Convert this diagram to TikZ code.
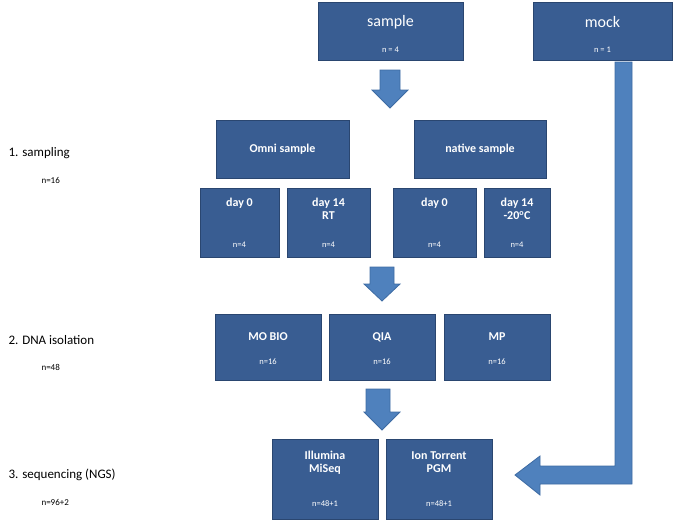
\documentclass[tikz,border=0pt]{standalone}
\usepackage{fontspec}
\setmainfont{Carlito}
\begin{document}
\begin{tikzpicture}[x=1pt,y=-1pt,
 box/.style={draw=boxb,fill=boxf,line width=1pt},
 ttl/.style={text=white,font=\bfseries\fontsize{12}{13}\selectfont,align=center},
 big/.style={text=white,font=\fontsize{16}{18}\selectfont},
 nn/.style={text=white,font=\fontsize{8.5}{10}\selectfont},
 arr/.style={draw=arrb,fill=arrf,line width=0.8pt,line join=miter},
 lab/.style={font=\fontsize{13}{15}\selectfont,anchor=west},
 labn/.style={font=\fontsize{9}{11}\selectfont,anchor=west}]
\definecolor{boxf}{HTML}{395D92}
\definecolor{boxb}{HTML}{2A4670}
\definecolor{arrf}{HTML}{4F81BD}
\definecolor{arrb}{HTML}{3D6BA3}
\useasboundingbox (0,0) rectangle (685,522);
% boxes
\newcommand{\bx}[5]{\draw[box] (#1,#2) rectangle (#3,#4); \coordinate (#5) at ({(#1+#3)/2},{(#2+#4)/2});}
\bx{318}{2}{463}{60}{s}
\node[big] (st) at (390.5,22) {sample}; \node[nn] (sn) at (390.5,50) {n = 4};
\bx{533}{2}{672}{60}{m}
\node[big] (mt) at (602.5,22) {mock}; \node[nn] (mn) at (602.5,50) {n = 1};
\bx{216}{120}{349}{178}{o}\node[ttl] (ot) at (o) {Omni sample};
\bx{414}{120}{546}{178}{na}\node[ttl] (nt) at (na) {native sample};
\bx{200}{188}{279}{257}{d1}\node[ttl] (d1t) at (239.5,203) {day 0};\node[nn] (d1n) at (239.5,245) {n=4};
\bx{287}{188}{370}{257}{d2}\node[ttl,anchor=north] (d2t) at (328.5,195) {day 14\\RT};\node[nn] (d2n) at (328.5,245) {n=4};
\bx{393}{188}{476}{257}{d3}\node[ttl] (d3t) at (434.5,203) {day 0};\node[nn] (d3n) at (434.5,245) {n=4};
\bx{484}{188}{550}{257}{d4}\node[ttl,anchor=north] (d4t) at (517,195) {day 14\\-20\textsuperscript{o}C};\node[nn] (d4n) at (517,245) {n=4};
\bx{215}{314}{321}{380}{b1}\node[ttl] (b1t) at (268,337) {MO BIO};\node[nn] (b1n) at (268,362) {n=16};
\bx{329}{314}{435}{380}{b2}\node[ttl] (b2t) at (382,337) {QIA};\node[nn] (b2n) at (382,362) {n=16};
\bx{444}{314}{550}{380}{b3}\node[ttl] (b3t) at (497,337) {MP};\node[nn] (b3n) at (497,362) {n=16};
\bx{272}{439}{378}{519}{q1}\node[ttl,anchor=north] (q1t) at (325,448) {Illumina\\MiSeq};\node[nn] (q1n) at (325,504) {n=48+1};
\bx{386}{439}{492}{519}{q2}\node[ttl,anchor=north] (q2t) at (439,448) {Ion Torrent\\PGM};\node[nn] (q2n) at (439,504) {n=48+1};
% arrows
\draw[arr] (380,70)--(400,70)--(400,90)--(408,90)--(390,108)--(372,90)--(380,90)--cycle;
\draw[arr] (370,267)--(394,267)--(394,284)--(400,284)--(382,301)--(364,284)--(370,284)--cycle;
\draw[arr] (366,389)--(390,389)--(390,412)--(400,412)--(382,430)--(364,412)--(366,412)--cycle;
\draw[arr] (615,62)--(632,62)--(632,484)--(540,484)--(540,495)--(515,475)--(540,456)--(540,466)--(615,466)--cycle;
% labels
\node[lab] (l1) at (5,153) {1. sampling};\node[labn] (l1n) at (38,180) {n=16};
\node[lab] (l2) at (5,340) {2. DNA isolation};\node[labn] (l2n) at (38,367) {n=48};
\node[lab] (l3) at (5,475) {3. sequencing (NGS)};\node[labn] (l3n) at (38,502) {n=96+2};
\end{tikzpicture}
\end{document}
